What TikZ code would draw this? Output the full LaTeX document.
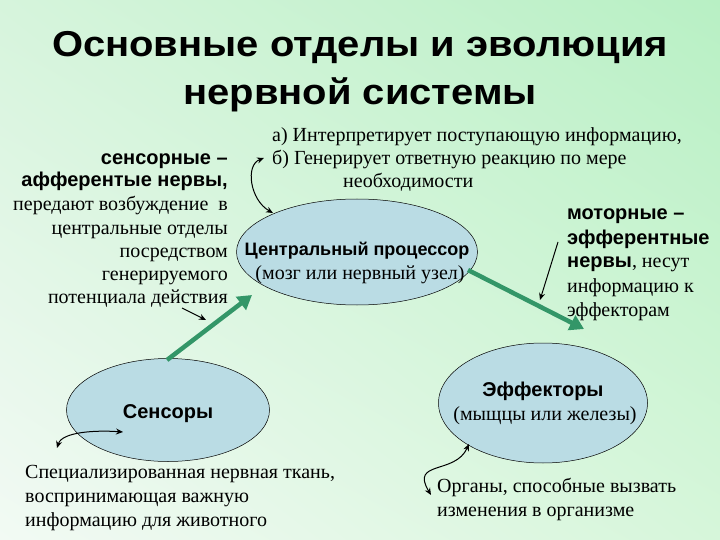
\documentclass[tikz,border=0pt]{standalone}
\usepackage{fontspec}
\setmainfont{Liberation Serif}
\setsansfont{Liberation Sans}
\usetikzlibrary{arrows.meta,shapes.geometric,shadings}
\definecolor{bgTL}{RGB}{214,244,220}
\definecolor{bgTR}{RGB}{184,240,196}
\definecolor{bgBL}{RGB}{242,250,244}
\definecolor{bgBR}{RGB}{214,246,218}
\definecolor{ellfill}{RGB}{186,220,228}
\definecolor{arrgreen}{RGB}{51,150,104}
\tikzset{
  ell/.style={ellipse, draw=black, line width=0.5pt, fill=ellfill, inner sep=0pt},
  serif/.style={font=\fontsize{20}{24}\selectfont, inner sep=0pt},
  bsans/.style={font=\fontsize{20}{24}\selectfont\sffamily\bfseries, inner sep=0pt},
  titlefont/.style={font=\fontsize{36}{46}\selectfont\sffamily\bfseries, inner sep=0pt, anchor=base, xscale=1.11},
  greenarrow/.style={draw=arrgreen, line width=4.5pt, -{Triangle[length=14pt,width=16pt]}},
  thinarrow/.style={draw=black, line width=1pt, -{Stealth[length=7pt,width=6pt]}},
  boththin/.style={draw=black, line width=1pt, {Stealth[length=7pt,width=6pt]}-{Stealth[length=7pt,width=6pt]}},
}
\begin{document}
\begin{tikzpicture}[x=1pt,y=-1pt]
\useasboundingbox (0,0) rectangle (720,540);
\shade[upper left=bgTL, upper right=bgTR, lower left=bgBL, lower right=bgBR] (0,0) rectangle (720,540);

% title
\node[titlefont] (t1) at (360,57) {Основные отделы и эволюция};
\node[titlefont] (t2) at (360,105) {нервной системы};

% ellipses
\node[ell, minimum width=241pt, minimum height=106pt] (cpu) at (357,252) {};
\node[bsans, font=\fontsize{18}{24}\selectfont\sffamily\bfseries, anchor=base] (cpu1) at (357,255) {Центральный процессор};
\node[serif, anchor=base] (cpu2) at (360,279) {(мозг или нервный узел)};

\node[ell, minimum width=203pt, minimum height=103pt] (sen) at (168,410) {};
\node[bsans, anchor=base] (sen1) at (168,418) {Сенсоры};

\node[ell, minimum width=209pt, minimum height=120pt] (eff) at (543,403) {};
\node[bsans, anchor=base] (eff1) at (543,396) {Эффекторы};
\node[serif, anchor=base] (eff2) at (545,420) {(мыщцы или железы)};

% left text
\node[bsans, anchor=base east] (l1) at (228,165) {сенсорные –};
\node[bsans, anchor=base east] (l2) at (228,187) {афферентые нервы,};
\node[serif, anchor=base east] (l3) at (228,211) {передают возбуждение\ \ в};
\node[serif, anchor=base east] (l4) at (228,234) {центральные отделы};
\node[serif, anchor=base east] (l5) at (228,257) {посредством};
\node[serif, anchor=base east] (l6) at (228,280) {генерируемого};
\node[serif, anchor=base east] (l7) at (228,303) {потенциала действия};

% top right text
\node[serif, anchor=base west] (r1) at (272,142) {а) Интерпретирует поступающую информацию,};
\node[serif, anchor=base west] (r2) at (272,165) {б) Генерирует ответную реакцию по мере};
\node[serif, anchor=base west] (r3) at (343,188) {необходимости};

% right text
\node[bsans, anchor=base west] (m1) at (567,220) {моторные –};
\node[bsans, anchor=base west] (m2) at (567,244) {эфферентные};
\node[anchor=base west, inner sep=0pt] (m3) at (567,267) {{\fontsize{20}{24}\selectfont\sffamily\bfseries нервы}{\fontsize{20}{24}\selectfont, несут}};
\node[serif, anchor=base west] (m4) at (567,292) {информацию к};
\node[serif, anchor=base west] (m5) at (567,316) {эффекторам};

% bottom texts
\node[serif, anchor=base west] (b1) at (25,478) {Специализированная нервная ткань,};
\node[serif, anchor=base west] (b2) at (25,502) {воспринимающая важную};
\node[serif, anchor=base west] (b3) at (25,526) {информацию для животного};

\node[serif, anchor=base west] (c1) at (437,492) {Органы, способные вызвать};
\node[serif, anchor=base west] (c2) at (437,516) {изменения в организме};

% green arrows
\coordinate (gs1) at (167,360);
\coordinate (gs2) at (252,295);
\draw[greenarrow] (gs1) -- (gs2);
\coordinate (ge1) at (468,270);
\coordinate (ge2) at (584,329);
\draw[greenarrow] (ge1) -- (ge2);

% thin arrows
\coordinate (a1s) at (182,308);
\coordinate (a1e) at (206,320);
\draw[thinarrow] (a1s) -- (a1e);
\coordinate (a2s) at (558,242);
\coordinate (a2e) at (540,300);
\draw[thinarrow] (a2s) -- (a2e);

\coordinate (c1a) at (264,158);
\coordinate (c1b) at (273,213);
\draw[boththin] (c1a) .. controls (245,165) and (250,200) .. (c1b);

\coordinate (c2a) at (57,448);
\coordinate (c2b) at (123,432);
\draw[boththin] (c2a) .. controls (62,432) and (95,430) .. (c2b);

\coordinate (c3a) at (469,444);
\coordinate (c3b) at (431,495);
\draw[boththin] (c3a) .. controls (455,475) and (410,460) .. (c3b);
\end{tikzpicture}
\end{document}
